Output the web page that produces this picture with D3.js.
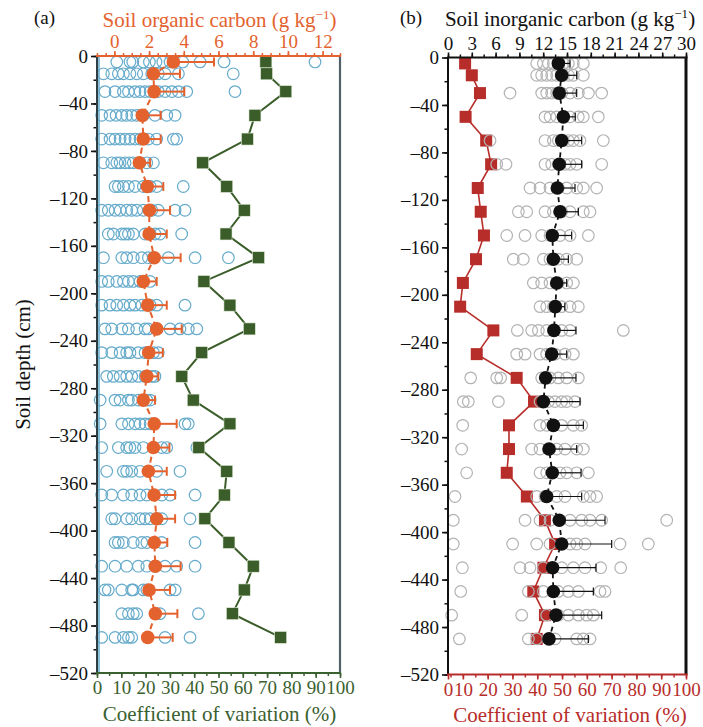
<!DOCTYPE html>
<html><head><meta charset="utf-8">
<script src="https://cdn.jsdelivr.net/npm/d3@7"></script>
<style>
body{margin:0;background:#fff;}
svg{display:block;}
text{font-family:"Liberation Serif","Times New Roman",serif;}
</style></head>
<body><svg id="c" width="703" height="727"></svg>
<script>
// ---------------- data ----------------
const depths = [-5,-15,-30,-50,-70,-90,-110,-130,-150,-170,-190,-210,-230,-250,-270,-290,-310,-330,-350,-370,-390,-410,-430,-450,-470,-490];

// (a) soil organic carbon
const socMean = [3.40,2.25,2.29,1.61,1.67,1.44,1.90,2.02,2.00,2.30,1.67,1.92,2.44,1.98,1.87,1.67,2.30,2.25,1.96,2.29,2.44,2.30,2.36,2.00,2.36,1.92];
const socSD   = [2.34,1.53,1.74,1.06,1.00,0.62,0.92,1.19,1.02,1.52,0.77,1.10,1.44,0.81,0.66,0.67,1.29,0.92,1.06,1.21,1.06,0.75,1.46,1.21,1.27,1.44];
const socCV   = [69.5,69.8,77.7,65.0,61.9,43.5,53.4,60.6,53.1,66.5,44.0,54.7,62.7,43.1,34.9,39.6,54.7,41.9,53.4,52.4,44.4,54.3,64.3,60.6,55.7,75.6];
const socSites = [
 [0.14,0.9,1.06,1.67,2.02,2.4,2.79,3.21,3.94,4.94,6.32,11.56],
 [-0.63,-0.15,0.23,0.52,0.90,1.29,1.67,2.15,2.53,2.92,3.69,6.85],
 [-0.54,0.04,0.52,0.81,1.19,1.48,1.77,2.06,2.53,2.92,3.31,3.69,4.17,6.95],
 [-0.73,-0.25,0.10,0.43,0.71,1.00,1.29,1.67,2.34,3.02,3.50],
 [-0.73,-0.25,0.04,0.33,0.62,0.90,1.19,1.48,1.96,2.44,3.40,3.59],
 [-0.63,-0.15,0.14,0.33,0.62,0.86,1.09,1.48,1.87,2.25],
 [0.04,0.23,0.52,0.81,1.19,1.67,2.06,2.44,3.97],
 [-0.73,-0.35,0.04,0.33,0.71,1.00,1.29,1.67,2.15,2.53,3.50,4.07],
 [-0.35,-0.06,0.43,0.62,0.81,1.09,1.77,2.06,2.34,2.63,3.88],
 [-0.63,0.43,0.71,1.09,1.58,1.96,2.25,3.11,4.65,6.57],
 [-0.73,-0.35,0.14,0.52,0.81,1.09,1.48,2.06],
 [-0.73,-0.25,0.14,0.52,0.90,1.19,1.58,2.06,2.44,4.07],
 [-0.54,-0.15,0.43,0.81,1.29,1.77,1.96,2.44,3.21,3.78,4.26,4.75],
 [-0.73,-0.15,0.33,0.71,0.90,1.38,1.77,2.25,2.53],
 [-0.44,-0.06,0.33,0.71,1.00,1.38,1.77,2.15,2.34],
 [-0.82,0.04,0.33,0.81,1.00,1.38,1.87,2.06],
 [-0.82,0.43,0.81,1.19,1.48,1.77,2.06,4.07,4.26],
 [-0.73,0.23,0.71,0.90,1.19,1.67,2.73,3.02,4.75],
 [-0.44,0.52,0.71,1.00,1.48,2.44,3.78],
 [-0.73,-0.15,0.52,1.00,1.48,1.87,2.73,3.21,4.65],
 [-0.15,0.04,0.71,1.00,1.48,1.77,2.06,2.44,2.73,4.36],
 [0.04,0.23,0.52,1.09,1.58,1.87,2.73,4.65],
 [-0.73,0.04,0.71,1.38,1.87,2.34,2.92,3.59,4.65],
 [-0.54,-0.35,0.43,1.00,1.09,1.67,1.87,3.21,3.50],
 [0.43,0.81,1.09,1.29,2.63,4.84],
 [-0.73,0.04,0.52,0.81,1.00,2.92,4.36]
];

// (b) soil inorganic carbon
const sicMean = [13.91,14.33,14.03,14.54,14.33,14.03,13.78,14.12,13.15,13.28,13.70,13.53,13.36,13.07,12.31,12.02,13.28,12.73,13.15,12.44,14.03,14.33,13.19,13.28,13.61,12.73];
const sicSD   = [1.47,1.89,2.19,1.50,2.52,2.82,2.23,2.31,2.44,1.89,1.26,1.20,2.77,1.89,3.82,4.62,3.78,3.49,3.62,4.41,5.76,6.30,5.47,5.04,5.76,4.96];
const sicCV   = [10.9,13.6,16.9,11.1,19.4,21.4,16.0,17.2,18.5,15.3,10.0,8.9,22.3,15.6,31.7,38.7,28.6,28.6,27.7,35.8,43.1,47.2,42.5,38.4,43.1,39.8];
const sicSites = [
 [11.18,12.02,12.65,13.28,13.91,14.54,15.17,15.80,17.06],
 [11.18,11.81,12.44,13.07,13.70,14.54,15.17,15.80,17.06],
 [7.82,11.81,12.44,13.07,13.70,14.33,15.38,16.43,17.69,19.37],
 [12.23,12.86,13.70,14.54,15.38,16.43,17.06,18.95],
 [5.3,12.23,13.28,13.91,14.54,15.17,15.80,16.64,19.58],
 [6.14,7.31,12.23,13.07,13.91,14.75,15.38,16.22,19.37],
 [10.34,11.6,12.86,13.91,14.96,16.22,17.06,18.74],
 [8.87,9.92,12.23,13.28,14.33,15.38,17.06,17.9],
 [7.40,9.71,11.81,12.86,14.12,15.38,17.69],
 [8.23,9.49,12.02,12.86,13.91,14.96,16.22],
 [10.76,11.81,12.86,13.91,14.96,15.80],
 [11.6,12.44,13.28,14.33,15.38,16.43],
 [8.74,10.55,11.39,12.44,13.28,14.33,15.38,22.1],
 [8.66,9.71,11.6,12.44,13.49,14.75,15.8],
 [2.86,6.14,6.64,11.81,12.86,13.91,14.96,16.43],
 [1.93,2.56,6.35,11.6,12.65,13.49,14.33,14.96,16.01],
 [1.85,11.6,12.44,13.28,14.33,15.8,16.85],
 [1.72,10.55,11.6,12.86,13.7,14.75,16.22,17.06],
 [2.35,11.6,12.44,14.12,14.96,16.22,17.69],
 [0.88,11.18,12.23,13.70,14.75,17.06,17.9,18.74],
 [0.67,9.71,11.6,12.86,15.38,16.85,17.9,19.37,27.57],
 [0.67,8.15,11.18,12.86,15.38,16.22,17.27,21.68,25.25],
 [1.81,9.08,10.34,12.02,14.33,15.8,17.27,19.25,21.77],
 [1.6,10.13,12.02,13.91,15.17,16.43,19.16,19.79],
 [0.46,9.29,12.44,13.91,15.17,16.43,17.48,18.32],
 [1.43,10.13,11.18,13.49,16.22,17.06,17.9]
];

// tick labels
const depthTicks = [0,-40,-80,-120,-160,-200,-240,-280,-320,-360,-400,-440,-480,-520];
const socTicks = [0,2,4,6,8,10,12];
const sicTicks = [0,3,6,9,12,15,18,21,24,27,30];
const cvTicks = [0,10,20,30,40,50,60,70,80,90,100];

// ---------------- style ----------------
const C = {
  orange:"#e4622e", green:"#3a5d29", greenTxt:"#3b6130", blue:"#66abcb",
  red:"#b72d2a", gray:"#b3b3b3", black:"#111", dark:"#2d3f45", rSpine:"#52606a"
};
const FT = 19, FTITLE = 21;

const svg = d3.select("#c");
svg.append("rect").attr("width",703).attr("height",727).attr("fill","#fff");

// ---------------- scales ----------------
const A = {x0:97, x1:340, y0:56, y1:673};
const B = {x0:448, x1:686, y0:57.5, y1:674.5};
const yA = d3.scaleLinear().domain([0,-520]).range([A.y0,A.y1]);
const yB = d3.scaleLinear().domain([0,-520]).range([B.y0,B.y1]);
const xSOC = d3.scaleLinear().domain([-1,13]).range([A.x0,A.x1]);
const xCVa = d3.scaleLinear().domain([0,100]).range([A.x0,A.x1]);
const xSIC = d3.scaleLinear().domain([0,30]).range([B.x0,B.x1]);
const xCVb = d3.scaleLinear().domain([4,100]).range([B.x0,B.x1]);

function rng(a,b,s){const o=[];for(let v=a;v<=b+1e-9;v+=s)o.push(+v.toFixed(4));return o;}
const depthFmt = d => d===0 ? "0" : "\u2013" + Math.abs(d);

function axisPair(g, axisFn, scale, major, minor, fmt, color, majorLen, minorLen, pad){
  const gm = g.append("g").call(axisFn(scale).tickValues(minor).tickSize(minorLen).tickFormat(""));
  gm.select(".domain").remove();
  gm.selectAll("line").attr("stroke",color).attr("stroke-width",1.5);
  const gM = g.append("g").call(axisFn(scale).tickValues(major).tickSize(majorLen).tickPadding(pad).tickFormat(fmt));
  gM.select(".domain").remove();
  gM.selectAll("line").attr("stroke",color).attr("stroke-width",1.6);
  gM.selectAll("text").attr("fill",color).style("font-size",FT+"px")
    .style("font-family",'"Liberation Serif","Times New Roman",serif');
  return gM;
}

// ================= Panel (a) =================
const pa = svg.append("g");
// blue circles
depths.forEach((d,i)=>{
  pa.append("g").selectAll("circle").data(socSites[i]).join("circle")
    .attr("cx",v=>xSOC(v)).attr("cy",yA(d)).attr("r",5.8)
    .attr("fill","none").attr("stroke",C.blue).attr("stroke-width",1.2);
});
// inner blue line along left spine
pa.append("line").attr("x1",A.x0+2).attr("x2",A.x0+2).attr("y1",A.y0).attr("y2",A.y1)
  .attr("stroke",C.blue).attr("stroke-width",1.5);
// CV line & squares (green)
const lineCVa = d3.line().x((d,i)=>xCVa(socCV[i])).y(d=>yA(d));
pa.append("path").attr("d",lineCVa(depths)).attr("fill","none").attr("stroke",C.green).attr("stroke-width",2);
pa.append("g").selectAll("rect").data(depths).join("rect")
  .attr("x",(d,i)=>xCVa(socCV[i])-6).attr("y",d=>yA(d)-6).attr("width",12).attr("height",12)
  .attr("fill",C.green).attr("stroke","#e8f0e0").attr("stroke-width",0.6);
// mean line (dashed orange)
const lineSOC = d3.line().x((d,i)=>xSOC(socMean[i])).y(d=>yA(d));
pa.append("path").attr("d",lineSOC(depths)).attr("fill","none").attr("stroke",C.orange)
  .attr("stroke-width",2).attr("stroke-dasharray","6,4");
// error bars
const eb = pa.append("g").attr("stroke",C.orange).attr("stroke-width",2);
depths.forEach((d,i)=>{
  const x1 = xSOC(socMean[i]), x2 = xSOC(socMean[i]+socSD[i]), y = yA(d);
  eb.append("line").attr("x1",x1).attr("x2",x2).attr("y1",y).attr("y2",y);
  eb.append("line").attr("x1",x2).attr("x2",x2).attr("y1",y-4.5).attr("y2",y+4.5);
});
pa.append("g").selectAll("circle").data(depths).join("circle")
  .attr("cx",(d,i)=>xSOC(socMean[i])).attr("cy",d=>yA(d)).attr("r",6.8).attr("fill",C.orange);

// axes (a)
axisPair(pa.append("g").attr("transform",`translate(${A.x0},0)`), d3.axisLeft, yA,
  depthTicks, rng(-520,0,20), depthFmt, C.black, 6, 3.5, 3);
axisPair(pa.append("g").attr("transform",`translate(0,${A.y0})`), d3.axisTop, xSOC,
  socTicks, rng(-1,13,0.5), d=>d, C.orange, 5, 3, 3);
axisPair(pa.append("g").attr("transform",`translate(0,${A.y1})`), d3.axisBottom, xCVa,
  cvTicks, rng(0,100,5), d=>d, C.greenTxt, 5, 3, 3);
// spines (a)
pa.append("line").attr("x1",A.x1).attr("x2",A.x1).attr("y1",A.y0).attr("y2",A.y1).attr("stroke",C.rSpine).attr("stroke-width",2.2);
pa.append("line").attr("x1",A.x0).attr("x2",A.x0).attr("y1",A.y0).attr("y2",A.y1).attr("stroke",C.dark).attr("stroke-width",2);
pa.append("line").attr("x1",A.x0-1).attr("x2",A.x1+1).attr("y1",A.y0).attr("y2",A.y0).attr("stroke",C.orange).attr("stroke-width",2);
pa.append("line").attr("x1",A.x0-1).attr("x2",A.x1+1).attr("y1",A.y1).attr("y2",A.y1).attr("stroke",C.greenTxt).attr("stroke-width",2);

// titles (a)
function supTitle(g, x, y, main, color){
  const t = g.append("text").attr("x",x).attr("y",y).attr("text-anchor","middle")
    .attr("fill",color).style("font-size",FTITLE+"px");
  t.append("tspan").text(main);
  t.append("tspan").attr("dy",-8).style("font-size","13px").text("\u2212" + "1");
  t.append("tspan").attr("dy",8).text(")");
}
supTitle(pa, (A.x0+A.x1)/2+1, 27, "Soil organic carbon (g kg", C.orange);
pa.append("text").attr("x",(A.x0+A.x1)/2+1).attr("y",721).attr("text-anchor","middle")
  .attr("fill",C.greenTxt).style("font-size",FTITLE+"px").text("Coefficient of variation (%)");
pa.append("text").attr("transform",`translate(30,${(A.y0+A.y1)/2}) rotate(-90)`).attr("text-anchor","middle")
  .attr("fill",C.black).style("font-size",FTITLE+"px").text("Soil depth (cm)");
pa.append("text").attr("x",34).attr("y",24).attr("fill",C.black).style("font-size","19px").text("(a)");

// ================= Panel (b) =================
const pb = svg.append("g");
// CV red line & squares
const lineCVb = d3.line().x((d,i)=>xCVb(sicCV[i])).y(d=>yB(d));
pb.append("path").attr("d",lineCVb(depths)).attr("fill","none").attr("stroke",C.red).attr("stroke-width",1.6);
pb.append("g").selectAll("rect").data(depths).join("rect")
  .attr("x",(d,i)=>xCVb(sicCV[i])-6).attr("y",d=>yB(d)-6).attr("width",12).attr("height",12)
  .attr("fill",C.red);
// gray circles
depths.forEach((d,i)=>{
  pb.append("g").selectAll("circle").data(sicSites[i]).join("circle")
    .attr("cx",v=>xSIC(v)).attr("cy",yB(d)).attr("r",5.8)
    .attr("fill","none").attr("stroke",C.gray).attr("stroke-width",1.2);
});
// mean line (dashed black)
const lineSIC = d3.line().x((d,i)=>xSIC(sicMean[i])).y(d=>yB(d));
pb.append("path").attr("d",lineSIC(depths)).attr("fill","none").attr("stroke",C.black)
  .attr("stroke-width",1.8).attr("stroke-dasharray","5,4");
const ebb = pb.append("g").attr("stroke",C.black).attr("stroke-width",1.2);
depths.forEach((d,i)=>{
  const x1 = xSIC(sicMean[i]), x2 = xSIC(sicMean[i]+sicSD[i]), y = yB(d);
  ebb.append("line").attr("x1",x1).attr("x2",x2).attr("y1",y).attr("y2",y);
  ebb.append("line").attr("x1",x2).attr("x2",x2).attr("y1",y-4).attr("y2",y+4);
});
pb.append("g").selectAll("circle").data(depths).join("circle")
  .attr("cx",(d,i)=>xSIC(sicMean[i])).attr("cy",d=>yB(d)).attr("r",6.8).attr("fill",C.black);

// axes (b)
axisPair(pb.append("g").attr("transform",`translate(${B.x0},0)`), d3.axisLeft, yB,
  depthTicks, rng(-520,0,20), depthFmt, C.black, 6, 3.5, 3);
axisPair(pb.append("g").attr("transform",`translate(0,${B.y0})`), d3.axisTop, xSIC,
  sicTicks, rng(0,30,1.5), d=>d, C.black, 5, 3, 3);
const cvPos = d3.scaleLinear().domain(xCVb.domain()).range(xCVb.range());
const cvB = d3.scaleLinear().domain(xCVb.domain()).range(xCVb.range()).clamp(true);
axisPair(pb.append("g").attr("transform",`translate(0,${B.y1})`), d3.axisBottom, cvB,
  cvTicks, rng(5,100,5), d=>d, C.red, 5, 3, 3);
// spines (b)
pb.append("line").attr("x1",B.x1).attr("x2",B.x1).attr("y1",B.y0).attr("y2",B.y1).attr("stroke",C.black).attr("stroke-width",3);
pb.append("line").attr("x1",B.x0).attr("x2",B.x0).attr("y1",B.y0).attr("y2",B.y1).attr("stroke",C.black).attr("stroke-width",2);
pb.append("line").attr("x1",B.x0-1).attr("x2",B.x1+1.5).attr("y1",B.y0).attr("y2",B.y0).attr("stroke",C.black).attr("stroke-width",2);
pb.append("line").attr("x1",B.x0-1).attr("x2",B.x1+1.5).attr("y1",B.y1).attr("y2",B.y1).attr("stroke",C.red).attr("stroke-width",2);

supTitle(pb, (B.x0+B.x1)/2+3, 26, "Soil inorganic carbon (g kg", C.black);
pb.append("text").attr("x",(B.x0+B.x1)/2+3).attr("y",722).attr("text-anchor","middle")
  .attr("fill",C.red).style("font-size",FTITLE+"px").text("Coefficient of variation (%)");
pb.append("text").attr("x",400).attr("y",24).attr("fill",C.black).style("font-size","19px").text("(b)");
</script></body></html>
